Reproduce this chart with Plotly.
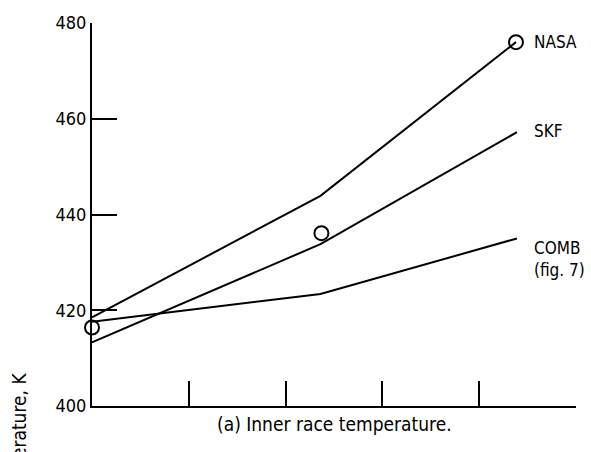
import plotly.graph_objects as go

# Data (x in arbitrary tick units 0..5, y in K)
x_nasa = [0, 2.36, 4.38]
y_nasa = [418.5, 443.9, 476.0]
x_skf = [0, 2.36, 4.39]
y_skf = [413.3, 433.8, 457.2]
x_comb = [0, 2.36, 4.39]
y_comb = [417.6, 423.4, 435.0]
x_exp = [0, 2.37, 4.38]
y_exp = [416.4, 436.1, 476.0]

labels = ["NASA", "SKF", "COMB<br>(fig. 7)"]
label_y = [476.0, 457.5, 433.5]

y_ticks = [400, 420, 440, 460, 480]
x_ticks = [1, 2, 3, 4, 5]

FONT = "DejaVu Sans Condensed, Liberation Sans, sans-serif"

fig = go.Figure()
line = dict(color="black", width=2)
fig.add_trace(go.Scatter(x=x_nasa, y=y_nasa, mode="lines", line=line, showlegend=False))
fig.add_trace(go.Scatter(x=x_skf, y=y_skf, mode="lines", line=line, showlegend=False))
fig.add_trace(go.Scatter(x=x_comb, y=y_comb, mode="lines", line=line, showlegend=False))
fig.add_trace(go.Scatter(x=x_exp, y=y_exp, mode="markers", cliponaxis=False,
                         marker=dict(symbol="circle-open", size=14, color="black",
                                     line=dict(width=2, color="black")),
                         showlegend=False))

for t, yv in zip(labels, label_y):
    fig.add_annotation(x=4.55, y=yv, xref="x", yref="y", text=t, showarrow=False,
                       xanchor="left", yanchor="middle" if "<br>" not in t else "top",
                       yshift=0 if "<br>" not in t else 10,
                       align="left",
                       font=dict(family=FONT, size=17, color="black"))

fig.add_annotation(x=0.5, y=-0.046, xref="paper", yref="paper",
                   text="(a) Inner race temperature.", showarrow=False,
                   xanchor="center", yanchor="middle",
                   font=dict(family=FONT, size=19, color="black"))

fig.add_annotation(x=-0.149, y=0.0928, xref="paper", yref="paper",
                   text="Temperature, K", showarrow=False, textangle=-90,
                   xanchor="center", yanchor="top",
                   font=dict(family=FONT, size=19, color="black"))

fig.update_xaxes(range=[0, 5], showline=True, linecolor="black", linewidth=2,
                 ticks="inside", ticklen=25, tickwidth=2, tickcolor="black",
                 tickvals=x_ticks, showticklabels=False, showgrid=False, zeroline=False)
fig.update_yaxes(range=[400, 480], showline=True, linecolor="black", linewidth=2,
                 ticks="inside", ticklen=25, tickwidth=2, tickcolor="black",
                 tickvals=y_ticks, ticklabelstandoff=0,
                 tickfont=dict(family=FONT, size=18, color="black"),
                 showgrid=False, zeroline=False)

fig.update_layout(width=591, height=452, margin=dict(l=92, r=15, t=18, b=46),
                  plot_bgcolor="white", paper_bgcolor="white")

fig.write_html("out.html")
